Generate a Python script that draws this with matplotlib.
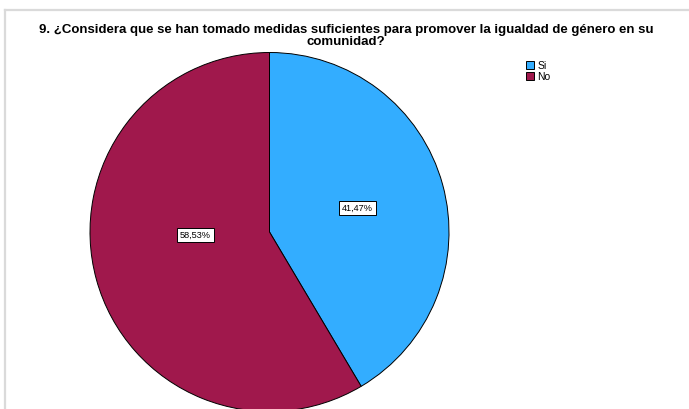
import matplotlib
matplotlib.use('Agg')
import matplotlib.pyplot as plt
from matplotlib.lines import Line2D
from matplotlib.patches import Patch

# Respuestas a la pregunta 9
categorias = ['Si', 'No']
porcentajes = [41.47, 58.53]
colores = ['#33adff', '#a0184c']
titulo = ('9. ¿Considera que se han tomado medidas suficientes para promover la igualdad de género en su\n'
          'comunidad?')

W, H = 689, 409
fig = plt.figure(figsize=(W / 100, H / 100), dpi=100)
fig.patch.set_facecolor('white')

# marco gris del visor
fig.add_artist(Line2D([5 / W, 1], [1 - 10 / H, 1 - 10 / H], color='#dadada', lw=1.6))
fig.add_artist(Line2D([5 / W, 5 / W], [0, 1 - 10 / H], color='#dadada', lw=1.6))

# ejes del pastel: centro (269.5, 232) px, radio 179.5 px
cx, cy, r = 269.5, 232, 179.5
ax = fig.add_axes([(cx - r) / W, (H - cy - r) / H, 2 * r / W, 2 * r / H])

wedges, _ = ax.pie(porcentajes, colors=colores, startangle=90, counterclock=False,
                   radius=1, wedgeprops=dict(edgecolor='black', linewidth=0.7))
ax.set_xlim(-1, 1)
ax.set_ylim(-1, 1)
ax.set_aspect('equal')
ax.axis('off')

# etiquetas de porcentaje con caja blanca
posiciones = [(0.49, 0.134), (-0.412, -0.017)]
for valor, (x, y) in zip(porcentajes, posiciones):
    ax.text(x, y, f'{valor:.2f}%'.replace('.', ','), ha='center', va='center',
            fontsize=6.6, family=['Liberation Sans Narrow', 'Liberation Sans', 'DejaVu Sans'],
            bbox=dict(boxstyle='square,pad=0.28', facecolor='white', edgecolor='black', linewidth=0.7))

fig.text(346 / W, 1 - 36 / H, titulo, ha='center', va='center', fontsize=9.5,
         fontweight='bold', family='Liberation Sans', linespacing=0.9)

handles = [Patch(facecolor=c, edgecolor='black', linewidth=0.7) for c in colores]
fig.legend(handles, categorias, loc='upper left', bbox_to_anchor=(526 / W, 1 - 61 / H),
           frameon=False, borderpad=0, borderaxespad=0, handlelength=0.8, handleheight=0.8,
           handletextpad=0.3, labelspacing=0.05,
           prop={'family': ['Liberation Sans Narrow', 'Liberation Sans', 'DejaVu Sans'], 'size': 7.5})

fig.savefig('out.png', dpi=100)
